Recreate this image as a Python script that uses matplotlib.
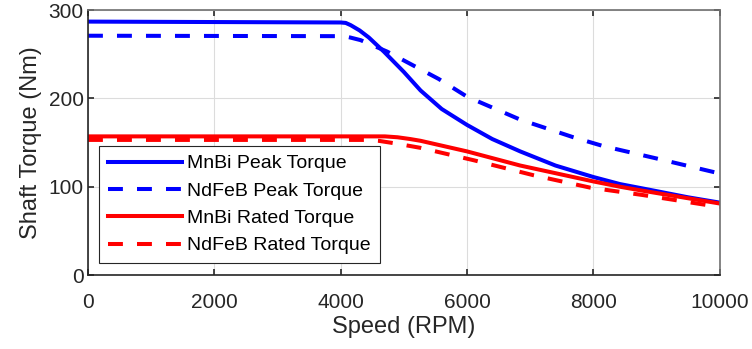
import numpy as np
import matplotlib
matplotlib.use("Agg")
from matplotlib import pyplot as plt

plt.rcParams['font.family'] = ['Liberation Sans', 'DejaVu Sans']

# data
mnbi_peak_rpm = [0, 4000, 4080, 4158, 4300, 4446, 4684, 5000, 5265, 5600, 6000, 6400, 6842, 7400, 8000, 8421, 9000, 9500, 10000]
mnbi_peak_tq = [287, 286, 285.5, 283, 277, 269, 253, 230, 209, 188, 170, 154, 140, 124, 111, 103, 95, 88, 82]
ndfeb_peak_rpm = [0, 4050, 4150, 4316, 4737, 5158, 5553, 6000, 6842, 7684, 8158, 9000, 10000]
ndfeb_peak_tq = [271, 270.5, 269, 266, 253, 237, 222, 202, 176, 156, 146, 132, 115]
mnbi_rated_rpm = [0, 4700, 4900, 5100, 5265, 6000, 6842, 8000, 8421, 8780, 10000]
mnbi_rated_tq = [157, 157, 156, 154, 152, 140, 124, 106, 100, 95.5, 81]
ndfeb_rated_rpm = [0, 4400, 4600, 4870, 5265, 6105, 7053, 7947, 8780, 10000]
ndfeb_rated_tq = [153, 153, 152, 149, 144, 130, 113, 99, 90.6, 77]

fig = plt.figure(figsize=(7.52, 3.49), dpi=100)
ax = fig.add_axes([0.117, 0.212, 0.840, 0.759])

lw = 2.9
dash = (3.7, 3.5)
ax.plot(mnbi_peak_rpm, mnbi_peak_tq, color='#0000ff', lw=lw, label='MnBi Peak Torque')
ax.plot(ndfeb_peak_rpm, ndfeb_peak_tq, color='#0000ff', lw=lw, dashes=dash, label='NdFeB Peak Torque')
ax.plot(mnbi_rated_rpm, mnbi_rated_tq, color='#ff0000', lw=lw, label='MnBi Rated Torque')
ax.plot(ndfeb_rated_rpm, ndfeb_rated_tq, color='#ff0000', lw=lw, dashes=dash, label='NdFeB Rated Torque')

ax.set_xlim(0, 10000)
ax.set_ylim(0, 300)
ax.set_xticks([0, 2000, 4000, 6000, 8000, 10000])
ax.set_yticks([0, 100, 200, 300])
ax.grid(True, color='#dcdcdc', lw=0.8)
ax.set_axisbelow(True)
ax.tick_params(direction='in', length=4, width=1.2, top=True, right=True,
               labelsize=15, colors='#262626')
ax.tick_params(axis='x', pad=13)
ax.tick_params(axis='y', pad=3)
for s in ['left', 'bottom']:
    ax.spines[s].set_color('#262626')
    ax.spines[s].set_linewidth(1.2)
for s in ['top', 'right']:
    ax.spines[s].set_color('#707070')
    ax.spines[s].set_linewidth(1.2)

ax.set_xlabel('Speed (RPM)', fontsize=17, color='#262626', labelpad=3)
ax.set_ylabel('Shaft Torque (Nm)', fontsize=17, color='#262626', labelpad=5)

leg = ax.legend(loc='lower left', bbox_to_anchor=(0.0174, 0.045), fontsize=14,
                frameon=True, fancybox=False, edgecolor='#262626', framealpha=1,
                handlelength=3.8, handletextpad=0.3, labelspacing=0.5, borderpad=0.45,
                borderaxespad=0)
leg.get_frame().set_linewidth(0.8)

fig.savefig('out.png', dpi=100)
